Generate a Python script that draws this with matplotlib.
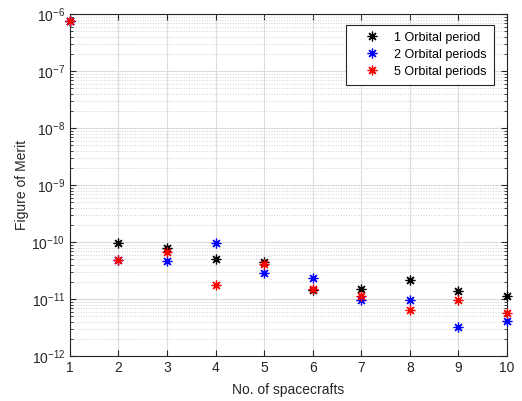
import matplotlib
matplotlib.use('Agg')
import matplotlib.pyplot as plt
from matplotlib.ticker import LogLocator, NullFormatter

plt.rcParams['font.family'] = ['Liberation Sans', 'DejaVu Sans']
plt.rcParams['mathtext.default'] = 'regular'

n_sc = [1, 2, 3, 4, 5, 6, 7, 8, 9, 10]
fom_1 = [7.4e-7, 9.8e-11, 7.8e-11, 5.0e-11, 4.4e-11, 1.42e-11, 1.5e-11, 2.14e-11, 1.37e-11, 1.15e-11]
fom_2 = [7.4e-7, 4.9e-11, 4.6e-11, 9.5e-11, 2.9e-11, 2.35e-11, 9.5e-12, 9.8e-12, 3.3e-12, 4.1e-12]
fom_5 = [7.4e-7, 4.9e-11, 6.7e-11, 1.75e-11, 4.1e-11, 1.5e-11, 1.12e-11, 6.5e-12, 9.8e-12, 5.7e-12]
labels = ['1 Orbital period', '2 Orbital periods', '5 Orbital periods']

dark = '#262626'
fig = plt.figure(figsize=(5.22, 4.01), dpi=100)
ax = fig.add_axes([0.134, 0.112, 0.837, 0.853])

ast = (8, 2, 0)
for y, c, lab in zip([fom_1, fom_2, fom_5], ['black', 'blue', 'red'], labels):
    ax.plot(n_sc, y, linestyle='none', marker=ast, markersize=7, markeredgewidth=0.9,
            color=c, label=lab, clip_on=False, zorder=5)

ax.set_yscale('log')
ax.set_xlim(1, 10)
ax.set_ylim(1e-12, 1e-6)
ax.set_xticks(n_sc)
ax.yaxis.set_minor_locator(LogLocator(base=10, subs=range(2, 10), numticks=20))
ax.yaxis.set_minor_formatter(NullFormatter())

ax.grid(True, which='major', color='#dcdcdc', linewidth=0.8)
ax.grid(True, which='minor', axis='y', color='#d0d0d0', linestyle=':', linewidth=0.7)
ax.set_axisbelow(True)

ax.tick_params(which='both', direction='in', top=True, right=True, colors=dark,
               labelsize=10)
ax.tick_params(which='major', length=4)
ax.tick_params(which='minor', length=2)
for s in ax.spines.values():
    s.set_color(dark)
    s.set_linewidth(0.8)

ax.set_xlabel('No. of spacecrafts', fontsize=10, color=dark, labelpad=6)
ax.set_ylabel('Figure of Merit', fontsize=10, color=dark, labelpad=2)

leg = ax.legend(loc='upper right', bbox_to_anchor=(0.970, 0.968), borderaxespad=0,
                fontsize=9, fancybox=False, edgecolor=dark, framealpha=1,
                handlelength=3.05, handletextpad=0.25, borderpad=0.55, labelspacing=0.4)
leg.get_frame().set_linewidth(0.8)

fig.savefig('out.png', dpi=100)
